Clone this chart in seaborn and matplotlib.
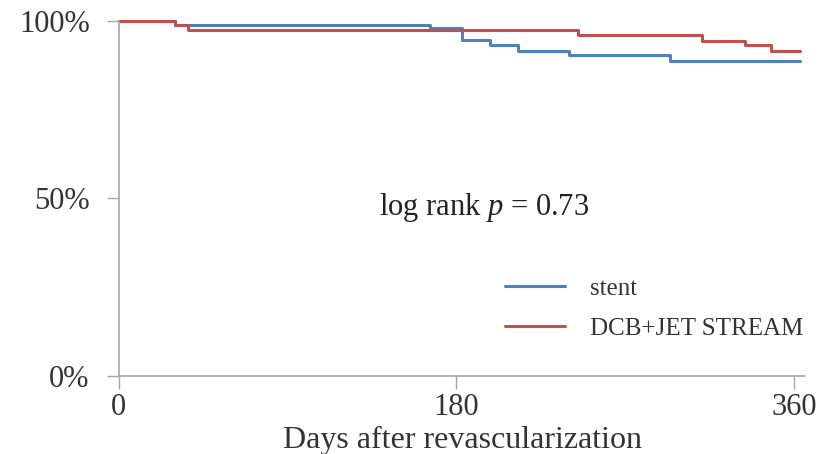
import pandas as pd
import matplotlib
matplotlib.use("Agg")
import matplotlib.pyplot as plt
import seaborn as sns

# -----------------------------
# Kaplan-Meier step data
# -----------------------------
stent_days = [0, 30, 166, 183, 198, 213, 240, 294, 363]
stent_surv = [100, 98.9, 98.0, 94.6, 93.2, 91.5, 90.3, 88.7, 88.7]

dcb_days = [0, 30, 37, 245, 311, 334, 348, 363]
dcb_surv = [100, 98.9, 97.5, 96.1, 94.4, 93.1, 91.5, 91.5]

groups = ["stent", "DCB+JET STREAM"]
colors = ["#4f81bd", "#c0504d"]
x_ticks = [0, 180, 360]
y_ticks = [0, 50, 100]
y_labels = ["0%", "50%", "100%"]

df = pd.concat([
    pd.DataFrame({"days": stent_days, "surv": stent_surv, "group": groups[0]}),
    pd.DataFrame({"days": dcb_days, "surv": dcb_surv, "group": groups[1]}),
])

sns.set_style("white")
plt.rcParams["font.family"] = ["Liberation Serif", "DejaVu Serif"]
plt.rcParams["mathtext.fontset"] = "custom"
plt.rcParams["mathtext.rm"] = "Liberation Serif"
plt.rcParams["mathtext.it"] = "Liberation Serif:italic"

fig = plt.figure(figsize=(8.2, 4.54), dpi=100)
ax = fig.add_axes([0.145, 0.172, 0.837, 0.782])

sns.lineplot(data=df, x="days", y="surv", hue="group", hue_order=groups,
             palette=colors, estimator=None, drawstyle="steps-post",
             linewidth=2.2, ax=ax, clip_on=False)

ax.set_xlim(0, 366)
ax.set_ylim(0, 100)
ax.set_xticks(x_ticks)
ax.set_yticks(y_ticks)
ax.set_yticklabels(y_labels)
ax.tick_params(axis="both", bottom=True, left=True, direction="out", length=9,
               width=1, color="#a6a6a6", labelsize=22, labelcolor="#333333")
ax.tick_params(axis="y", pad=12)
ax.tick_params(axis="x", pad=3)

for side in ["top", "right"]:
    ax.spines[side].set_visible(False)
for side in ["left", "bottom"]:
    ax.spines[side].set_color("#a6a6a6")
    ax.spines[side].set_linewidth(1.2)

ax.set_xlabel("Days after revascularization", fontsize=23, color="#333333", labelpad=3)
ax.set_ylabel("")

ax.text(195, 47.5, "log rank $p$ = 0.73", fontsize=22, color="#222222",
        ha="center", va="center")

leg = ax.legend(loc="upper left", bbox_to_anchor=(0.53, 0.34), frameon=False,
                fontsize=18, handlelength=2.4, handletextpad=1.0, labelspacing=0.7)
for t in leg.get_texts():
    t.set_color("#333333")

fig.savefig("out.png", dpi=100)
